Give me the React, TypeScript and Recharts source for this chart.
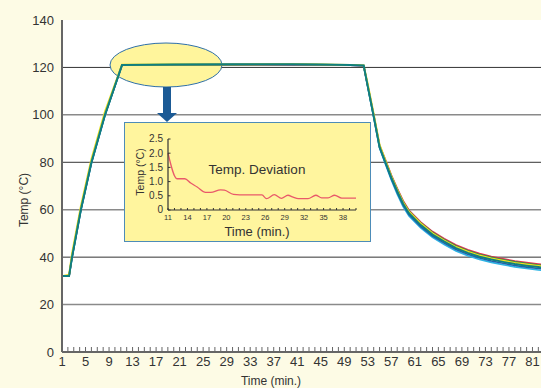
/**
 * Sterilisation run — chamber temperature of several sensors over time,
 * with an inset showing the temperature deviation during the hold phase.
 */

import { LineChart, Line, XAxis, YAxis, CartesianGrid } from 'recharts';

// Main chart: time in minutes, one temperature array per sensor
const TIME = [1, 2.2, 2.7, 4.2, 6, 8.3, 11.2, 20, 30, 40, 45, 50, 52.3, 53, 54, 55, 56, 57, 58, 59, 60, 62, 64, 66, 68, 70, 72, 74, 76, 78, 80, 82, 85];

const SENSOR_CYAN   = [32, 32, 39.5, 59.5, 79.5, 99.6, 120.9, 121.1, 121.1, 121.2, 121.1, 120.9, 120.7, 111.6, 99, 86, 79.2, 72.5, 66.6, 61.3, 57.3, 52.3, 48.3, 45.3, 42.6, 40.6, 39, 37.8, 36.8, 35.9, 35.2, 34.6, 33.8];
const SENSOR_BLUE   = [32, 32, 39.7, 59.7, 79.7, 99.8, 120.9, 121.1, 121.2, 121.2, 121.1, 120.9, 120.7, 111.8, 99.2, 86.2, 79.6, 73, 67.2, 61.9, 57.9, 52.9, 48.9, 45.9, 43.2, 41.2, 39.6, 38.4, 37.4, 36.5, 35.8, 35.2, 34.4];
const SENSOR_RED    = [32, 32, 40.3, 60.3, 80.2, 100.2, 121, 121.1, 121.2, 121.2, 121.1, 120.9, 120.7, 112.2, 100, 87.2, 81, 74.6, 69, 63.8, 59.8, 54.8, 50.8, 47.8, 45.1, 43.1, 41.5, 40.3, 39.3, 38.4, 37.7, 37.1, 36.3];
const SENSOR_GREEN  = [32, 32, 40.2, 60.2, 80.1, 100.1, 121, 121.2, 121.2, 121.3, 121.2, 121, 120.8, 112.1, 99.8, 87, 80.6, 74.2, 68.6, 63.4, 59.4, 54.4, 50.4, 47.4, 44.7, 42.7, 41.1, 39.9, 38.9, 38, 37.3, 36.7, 35.9];
const SENSOR_YELLOW = [32, 32.6, 41.6, 61.5, 81.4, 101.4, 121.2, 121.3, 121.3, 121.4, 121.3, 121.1, 120.9, 113, 100.5, 87.5, 80.8, 74.2, 68.5, 63.2, 59.2, 54.2, 50.1, 47, 44.3, 42.3, 40.7, 39.5, 38.5, 37.6, 36.9, 36.3, 35.5];
const SENSOR_TEAL   = [32, 32, 40, 60, 80, 100, 121, 121.2, 121.3, 121.3, 121.2, 121, 120.8, 112, 99.5, 86.5, 80, 73.5, 67.8, 62.5, 58.5, 53.5, 49.5, 46.5, 43.8, 41.8, 40.2, 39, 38, 37.1, 36.4, 35.8, 35];

const TEMP_MAX = 140;
const TEMP_TICKS = [0, 20, 40, 60, 80, 100, 120, 140];
const DARK_GRID = [40, 80, 120];
const GRAY_GRID = [20, 60, 100];
const TIME_LABELS = [1, 5, 9, 13, 17, 21, 25, 29, 33, 37, 41, 45, 49, 53, 57, 61, 65, 69, 73, 77, 81];
const MINUTES = Array.from({ length: 85 }, (_, i) => i + 1);

// Inset: temperature deviation during the hold phase
const INSET_TIME = [11, 12.4, 13.6, 14.5, 15.5, 16.8, 17.6, 19.1, 19.7, 21.1, 23, 25.5, 26.2, 27.4, 28.5, 29.5, 30.3, 31.1, 32.6, 33.8, 34.7, 35.7, 36.7, 37.8, 40];
const INSET_DEV  = [2.0, 1.1, 1.1, 0.95, 0.81, 0.62, 0.62, 0.71, 0.7, 0.55, 0.53, 0.53, 0.4, 0.54, 0.41, 0.52, 0.45, 0.4, 0.4, 0.52, 0.43, 0.43, 0.52, 0.42, 0.42];
const INSET_Y_TICKS = [0, 0.5, 1, 1.5, 2, 2.5];
const INSET_LABELS = [11, 14, 17, 20, 23, 26, 29, 32, 35, 38];
const INSET_MINUTES = Array.from({ length: 30 }, (_, i) => i + 11);

const SERIES = [
  { key: 'cyan', color: '#2cb4e4', values: SENSOR_CYAN, width: 1.6 },
  { key: 'blue', color: '#2360ae', values: SENSOR_BLUE, width: 1.6 },
  { key: 'red', color: '#e4324e', values: SENSOR_RED, width: 1.6 },
  { key: 'green', color: '#2f8a4e', values: SENSOR_GREEN, width: 1.6 },
  { key: 'yellow', color: '#f0e01e', values: SENSOR_YELLOW, width: 1.8 },
  { key: 'teal', color: '#0f7f80', values: SENSOR_TEAL, width: 2 },
];

const rows = TIME.map((t, i) => {
  const r: Record<string, number> = { t };
  SERIES.forEach((s) => { r[s.key] = s.values[i]; });
  return r;
});

const insetRows = INSET_TIME.map((t, i) => ({ t, dev: INSET_DEV[i] }));

const FONT = '"Liberation Sans", Arial, sans-serif';

// grid rows through the y scale, falling back to the plot offset
const gridAt = (vals: number[]) => (args: any) => {
  const ya = args?.yAxis;
  if (ya && typeof ya.scale === 'function') return vals.map((v) => ya.scale(v));
  const o = args.offset;
  return vals.map((v) => o.top + o.height * (1 - v / TEMP_MAX));
};

function TimeTick({ x, y, payload }: any) {
  const v = payload.value;
  return (
    <g>
      <line x1={x} x2={x} y1={y - 5} y2={y} stroke="#666" strokeWidth={1} />
      {TIME_LABELS.includes(v) && (
        <text x={x} y={y + 14} textAnchor="middle" fontSize={13} fill="#333" fontFamily={FONT}>
          {v}
        </text>
      )}
    </g>
  );
}

function InsetTimeTick({ x, y, payload }: any) {
  const v = payload.value;
  return (
    <g>
      <line x1={x} x2={x} y1={y - 2} y2={y} stroke="#333" strokeWidth={1} />
      {INSET_LABELS.includes(v) && (
        <text x={x} y={y + 10} textAnchor="middle" fontSize={7.5} fill="#333" fontFamily={FONT}>
          {v}
        </text>
      )}
    </g>
  );
}

function InsetTempTick({ x, y, payload }: any) {
  const v = payload.value;
  return (
    <g>
      <line x1={x} x2={x + 2.5} y1={y} y2={y} stroke="#333" strokeWidth={1} />
      <text x={x - 5} y={y + 3.4} textAnchor="end" fontSize={10} fill="#333" fontFamily={FONT}>
        {v === 0 ? '0' : v.toFixed(1)}
      </text>
    </g>
  );
}

export default function App() {
  return (
    <div
      style={{
        position: 'absolute',
        left: 0,
        top: 0,
        width: 541,
        height: 388,
        overflow: 'hidden',
        background: '#fdfbe5',
        fontFamily: FONT,
      }}
    >
      <LineChart width={556} height={388} data={rows} margin={{ top: 20, right: 0, left: 0, bottom: 0 }}>
        <CartesianGrid
          vertical={false}
          stroke="#333"
          strokeWidth={1}
          fill="#fff"
          horizontalCoordinatesGenerator={gridAt(DARK_GRID)}
        />
        <CartesianGrid
          vertical={false}
          stroke="#8a8a8a"
          strokeWidth={1.5}
          horizontalCoordinatesGenerator={gridAt(GRAY_GRID)}
        />
        <XAxis
          dataKey="t"
          type="number"
          domain={[1, 85]}
          ticks={MINUTES}
          interval={0}
          tickSize={0}
          tickMargin={0}
          tickLine={false}
          tick={(p: any) => <TimeTick {...p} />}
          axisLine={{ stroke: '#666', strokeWidth: 2 }}
          height={36}
          label={{ value: 'Time (min.)', position: 'insideBottom', offset: 3, dx: -38, fontSize: 12, fill: '#333' }}
        />
        <YAxis
          type="number"
          domain={[0, TEMP_MAX]}
          ticks={TEMP_TICKS}
          interval={0}
          width={62}
          tickLine={false}
          tick={{ fontSize: 13, fill: '#333' }}
          axisLine={{ stroke: '#666', strokeWidth: 2 }}
        />

        {/* highlight on the hold phase */}
        <ellipse cx={166} cy={65} rx={56} ry={22} fill="#fff59c" stroke="#2f70a8" strokeWidth={1} />
        <rect x={163} y={87} width={8} height={26} fill="#1b5a95" />
        <polygon points="157,113 177,113 167,122" fill="#1b5a95" />

        <text x={28} y={200} transform="rotate(-90, 28, 200)" textAnchor="middle" fontSize={12} fill="#333" fontFamily={FONT}>
          Temp (°C)
        </text>

        {SERIES.map((s) => (
          <Line
            key={s.key}
            dataKey={s.key}
            type="linear"
            stroke={s.color}
            strokeWidth={s.width}
            dot={false}
            isAnimationActive={false}
          />
        ))}
      </LineChart>

      {/* inset box */}
      <div
        style={{
          position: 'absolute',
          left: 124,
          top: 122,
          width: 247,
          height: 120,
          boxSizing: 'border-box',
          background: '#fff59e',
          border: '1.5px solid #4d8cb8',
        }}
      />
      <div style={{ position: 'absolute', left: 124, top: 122 }}>
        <LineChart width={247} height={120} data={insetRows} margin={{ top: 17, right: 15, left: 0, bottom: 0 }}>
          <XAxis
            dataKey="t"
            type="number"
            domain={[11, 40]}
            ticks={INSET_MINUTES}
            interval={0}
            tickSize={0}
            tickMargin={0}
            tickLine={false}
            tick={(p: any) => <InsetTimeTick {...p} />}
            axisLine={{ stroke: '#333', strokeWidth: 1.2 }}
            height={32}
          />
          <YAxis
            type="number"
            domain={[0, 2.5]}
            ticks={INSET_Y_TICKS}
            interval={0}
            width={44}
            tickSize={0}
            tickMargin={0}
            tickLine={false}
            tick={(p: any) => <InsetTempTick {...p} />}
            axisLine={{ stroke: '#333', strokeWidth: 1.2 }}
          />
          <text x={15.5} y={50} transform="rotate(-90, 15.5, 50)" textAnchor="middle" dominantBaseline="central" fontSize={10.5} fill="#333" fontFamily={FONT}>
            Temp (°C)
          </text>
          <text x={133} y={47} textAnchor="middle" dominantBaseline="central" fontSize={13.5} fill="#333" fontFamily={FONT}>
            Temp. Deviation
          </text>
          <text x={133} y={109} textAnchor="middle" dominantBaseline="central" fontSize={13} fill="#333" fontFamily={FONT}>
            Time (min.)
          </text>
          <Line dataKey="dev" type="monotone" stroke="#e9596a" strokeWidth={1.3} dot={false} isAnimationActive={false} />
        </LineChart>
      </div>
    </div>
  );
}
